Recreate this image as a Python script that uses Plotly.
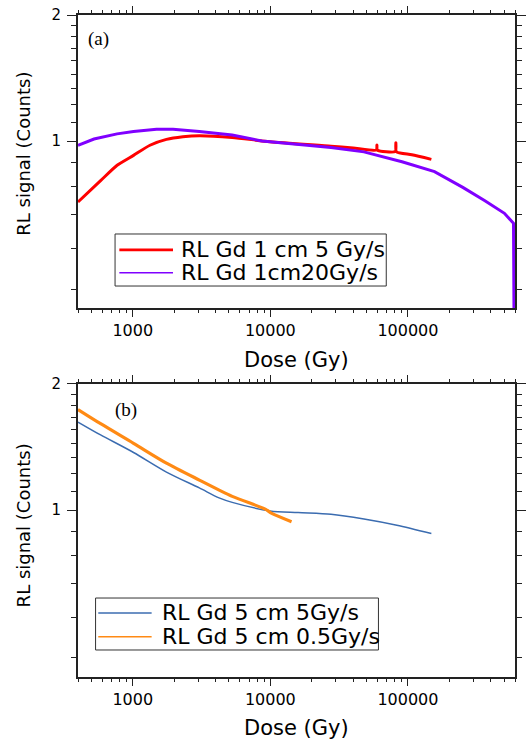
import plotly.graph_objects as go

# ---- data ----
red_x = [400, 584, 770, 1013, 1334, 1757, 2313, 3048, 5284, 9954, 27600, 40000,
         59000, 59500, 60000, 81000, 81700, 82400, 106700, 148000]
red_y = [0.716, 0.805, 0.876, 0.925, 0.978, 1.010, 1.025, 1.031, 1.021, 0.997, 0.973, 0.963,
         0.953, 0.979, 0.952, 0.945, 0.992, 0.944, 0.928, 0.905]

purple_x = [400, 523, 769, 1013, 1489, 1963, 3048, 5280, 8690, 27600, 47900, 90500,
            156000, 250500, 362500, 502600, 585000, 597000]
purple_y = [0.978, 1.012, 1.041, 1.054, 1.068, 1.068, 1.054, 1.034, 1.001, 0.966, 0.943, 0.893,
            0.846, 0.776, 0.721, 0.673, 0.637, 0.2]

blue_x = [400, 584, 1013, 1757, 3048, 4240, 5284, 9954, 15900, 27600, 47900, 83100, 148000]
blue_y = [1.623, 1.512, 1.373, 1.233, 1.130, 1.070, 1.044, 0.996, 0.987, 0.978, 0.953, 0.921, 0.880]

orange_x = [400, 584, 1013, 1757, 3048, 5284, 9180, 10240, 14260]
orange_y = [1.738, 1.608, 1.444, 1.295, 1.180, 1.079, 1.006, 0.983, 0.939]

series_names_a = ["RL Gd 1 cm 5 Gy/s", "RL Gd 1cm20Gy/s"]
series_names_b = ["RL Gd 5 cm 5Gy/s", "RL Gd 5 cm 0.5Gy/s"]

x_tickvals = [1000, 10000, 100000]
x_ticktext = ["1000", "10000", "100000"]
x_minor = [400, 500, 600, 700, 800, 900,
           2000, 3000, 4000, 5000, 6000, 7000, 8000, 9000,
           20000, 30000, 40000, 50000, 60000, 70000, 80000, 90000,
           200000, 300000, 400000, 500000, 600000]
y_tickvals = [1, 2]
y_ticktext = ["1", "2"]
y_minor = [0.444, 0.556, 0.667, 0.778, 0.889, 1.111, 1.222, 1.333, 1.444, 1.556, 1.667, 1.778, 1.889]

x_range = [2.60206, 5.77815]   # log10(400) .. log10(600000)
y_range = [-0.39794, 0.30103]  # log10(0.4) .. log10(2)

FONT = "DejaVu Sans"
AX = "#222222"
RED, PURPLE, BLUE, ORANGE = "#FF0000", "#8000FF", "#3B6CB0", "#FF8A14"

fig = go.Figure()
fig.add_trace(go.Scatter(x=red_x, y=red_y, mode="lines", name=series_names_a[0], showlegend=False,
                         line=dict(color=RED, width=3, shape="spline", smoothing=0.6), xaxis="x", yaxis="y"))
fig.add_trace(go.Scatter(x=purple_x, y=purple_y, mode="lines", name=series_names_a[1], showlegend=False,
                         line=dict(color=PURPLE, width=3), xaxis="x", yaxis="y"))
fig.add_trace(go.Scatter(x=blue_x, y=blue_y, mode="lines", name=series_names_b[0], showlegend=False,
                         line=dict(color=BLUE, width=1.5, shape="spline", smoothing=0.8), xaxis="x2", yaxis="y2"))
fig.add_trace(go.Scatter(x=orange_x, y=orange_y, mode="lines", name=series_names_b[1], showlegend=False,
                         line=dict(color=ORANGE, width=3.2, shape="spline", smoothing=0.8), xaxis="x2", yaxis="y2"))

def xax(anchor):
    return dict(type="log", range=x_range, anchor=anchor, showgrid=False, zeroline=False,
                showline=True, linecolor=AX, linewidth=2, mirror="ticks",
                ticks="outside", ticklen=7, tickwidth=1, tickcolor=AX,
                tickmode="array", tickvals=x_tickvals, ticktext=x_ticktext,
                tickfont=dict(family=FONT, size=16, color="black"),
                minor=dict(tickmode="array", tickvals=x_minor, ticks="outside", ticklen=3,
                           tickwidth=1, tickcolor=AX, showgrid=False))

def yax(anchor, domain):
    return dict(type="log", range=y_range, anchor=anchor, domain=domain, showgrid=False, zeroline=False,
                showline=True, linecolor=AX, linewidth=2, mirror="ticks",
                ticks="outside", ticklen=9, tickwidth=1, tickcolor=AX, ticklabelstandoff=3,
                tickmode="array", tickvals=y_tickvals, ticktext=y_ticktext,
                tickfont=dict(family=FONT, size=15, color="black"),
                minor=dict(tickmode="array", tickvals=y_minor, ticks="outside", ticklen=5,
                           tickwidth=1, tickcolor=AX, showgrid=False))

# ---- legends built as boxes, sample lines and text (paper coordinates) ----
shapes = []
annotations = []

def legend_box(x0, x1, y0, y1, line_x0, line_x1, text_x, rows, names, colors, widths):
    shapes.append(dict(type="rect", xref="paper", yref="paper", x0=x0, x1=x1, y0=y0, y1=y1,
                       line=dict(color="#333333", width=1), fillcolor="white", layer="above"))
    for yy, nm, col, w in zip(rows, names, colors, widths):
        shapes.append(dict(type="line", xref="paper", yref="paper", x0=line_x0, x1=line_x1, y0=yy, y1=yy,
                           line=dict(color=col, width=w), layer="above"))
        annotations.append(dict(text=nm, x=text_x, y=yy, xref="paper", yref="paper", showarrow=False,
                                xanchor="left", yanchor="middle",
                                font=dict(family=FONT, size=22, color="black")))

legend_box(0.0848, 0.7054, 0.5906, 0.6692, 0.0946, 0.2174, 0.2321, [0.6453, 0.6106],
           series_names_a, [RED, PURPLE], [2.7, 1.5])
legend_box(0.0402, 0.6875, 0.0408, 0.1193, 0.0464, 0.1685, 0.1875, [0.0967, 0.0609],
           series_names_b, [BLUE, ORANGE], [1.4, 1.4])

annotations += [
    dict(text="(a)", x=0.048, y=0.9637, xref="paper", yref="paper", showarrow=False,
         xanchor="center", yanchor="middle", font=dict(family="Liberation Serif", size=19, color="black")),
    dict(text="(b)", x=0.110, y=0.4026, xref="paper", yref="paper", showarrow=False,
         xanchor="center", yanchor="middle", font=dict(family="Liberation Serif", size=19, color="black")),
    dict(text="RL signal (Counts)", x=-0.125, y=0.7911, xref="paper", yref="paper", showarrow=False,
         textangle=-90, xanchor="center", yanchor="middle", font=dict(family=FONT, size=18, color="black")),
    dict(text="RL signal (Counts)", x=-0.125, y=0.2296, xref="paper", yref="paper", showarrow=False,
         textangle=-90, xanchor="center", yanchor="middle", font=dict(family=FONT, size=18, color="black")),
    dict(text="Dose (Gy)", x=0.5, y=0.4796, xref="paper", yref="paper", showarrow=False,
         xanchor="center", yanchor="middle", font=dict(family=FONT, size=21, color="black")),
    dict(text="Dose (Gy)", x=0.5, y=-0.0767, xref="paper", yref="paper", showarrow=False,
         xanchor="center", yanchor="middle", font=dict(family=FONT, size=21, color="black")),
]

fig.update_layout(
    width=529, height=740,
    margin=dict(l=78, r=3, t=15, b=63),
    paper_bgcolor="white", plot_bgcolor="white",
    showlegend=False,
    xaxis=xax("y"), yaxis=yax("x", [0.5574, 1.0]),
    xaxis2=xax("y2"), yaxis2=yax("x2", [0.0, 0.4426]),
    shapes=shapes,
    annotations=annotations,
)

fig.write_html("out.html")
